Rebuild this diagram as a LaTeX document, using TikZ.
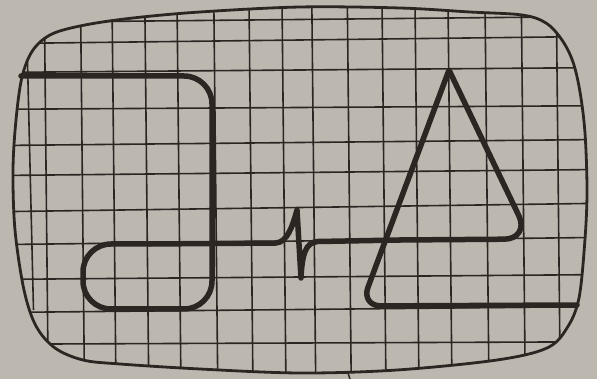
\documentclass[tikz,border=0pt]{standalone}
\begin{document}
\begin{tikzpicture}[x=1pt,y=-1pt,
  ink/.style={draw=inkc},
  gridline/.style={draw=inkc, line width=1.6pt},
  trace/.style={draw=inkc, line width=5.5pt, line cap=round, line join=round},
  frame/.style={draw=inkc, line width=2.8pt}]
\definecolor{paper}{RGB}{188,184,176}
\definecolor{inkc}{RGB}{45,37,33}
\fill[paper] (0,0) rectangle (597,379);
\useasboundingbox (0,0) rectangle (597,379);
\def\border{plot[smooth cycle, tension=0.55] coordinates {(22,77) (33,50) (52,34) (85,25) (133,18) (200,12) (300,7) (400,8) (470,12) (522,15) (546,23) (562,40) (573,62) (580,92) (585,133) (587,190) (585,239) (579,298) (567,328) (547,348) (497,360) (397,370) (300,373) (200,369) (120,364) (83,360) (55,348) (36,326) (24,290) (15,230) (13,170) (16,120)}}
\begin{scope}
  \clip \border;
  \foreach \t in {44.3,80.5,112,144.8,177,213.8,249,282,311.8,347.3,382,415,448,485,521.3,556.3}
    \draw[gridline] (\t,0) -- ({\t+3.9},379);
  \draw[gridline] (27.5,62) -- (33.5,310);
  \foreach \a/\b in {22/17,43/37,72/68,109/106,145/140,175/170,211/204,244/238,279/275,312/307,344/342}
    \draw[gridline] (0,{\a+0.1*(\a-\b)}) -- (597,{\b-0.094*(\a-\b)});
\end{scope}
\draw[frame] \border;
\draw[ink, line width=1.5pt] (348,373) -- (350,379);
% left box and loop
\draw[trace, rounded corners=28pt] (21,76) -- (212,76) -- (212,309) -- (83,309) -- (83,244) -- (150,244);
% spike
\draw[trace] (150,244) -- (276,243) .. controls (287,242) and (292,228) .. (297,210) -- (301,278) .. controls (302,256) and (305,242) .. (318,241.5) -- (400,240);
% triangle
\draw[trace, rounded corners=26pt] (400,240) -- (530,239) -- (489.7,155);
\draw[trace, rounded corners=2pt] (489.7,155) -- (449,70) -- (409.8,175);
\draw[trace, rounded corners=20pt] (409.8,175) -- (361,306) -- (577,305);
\end{tikzpicture}
\end{document}
